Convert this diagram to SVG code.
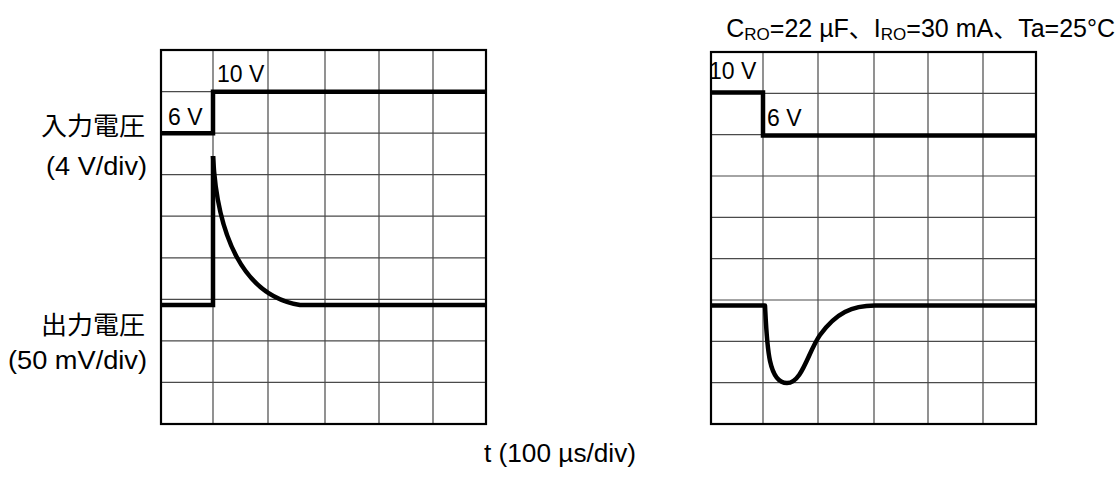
<svg xmlns="http://www.w3.org/2000/svg" width="1120" height="477" viewBox="0 0 1120 477">
<style>
.grid{stroke:#4a4a4a;stroke-width:1.2;fill:none}
.frame{stroke:#000;stroke-width:2.2;fill:none}
.trace{stroke:#000;stroke-width:4.5;fill:none;stroke-linejoin:miter;stroke-linecap:butt}
.curve{stroke:#000;stroke-width:4.5;fill:none;stroke-linejoin:round;stroke-linecap:butt}
text{font-family:"Liberation Sans",Arial,"Noto Sans CJK JP",sans-serif;font-size:23px;fill:#000}
.big{font-size:25px}
.jp{font-family:"Noto Sans CJK JP",sans-serif;font-size:25px}
</style>
<rect width="1120" height="477" fill="#fff"/>
<g id="left-scope">
<path class="grid" d="M213,50V424M268,50V424M325,50V424M379,50V424M433,50V424M161,91.6H486M161,133.1H486M161,174.7H486M161,216.2H486M161,257.8H486M161,299.3H486M161,340.9H486M161,382.4H486"/>
<rect class="frame" x="161" y="50" width="325" height="374"/>
</g>
<g id="right-scope">
<path class="grid" d="M763,52V424M818,52V424M874,52V424M928,52V424M983,52V424M711,93.3H1036M711,134.7H1036M711,176H1036M711,217.3H1036M711,258.7H1036M711,300H1036M711,341.3H1036M711,382.7H1036"/>
<rect class="frame" x="711" y="52" width="325" height="372"/>
</g>
<g id="traces">
<path class="trace" d="M161,133.3H213V91.7H486"/>
<path class="trace" d="M161,305H213V156"/>
<path class="curve" d="M213,156C217,235 243,296 300,305H486"/>
<path class="trace" d="M711,92.5H763V135.5H1036"/>
<path class="curve" d="M711,305.5H765C767,345 768,383 787,383C802,383 808,352 820,335C836,313 852,305.5 875,305.5H1036"/>
</g>
<g id="labels">
<text x="217" y="82">10 V</text>
<text x="168" y="125">6 V</text>
<text x="709" y="79">10 V</text>
<text x="767" y="126">6 V</text>
<text class="jp" x="145" y="135" text-anchor="end" textLength="104" lengthAdjust="spacingAndGlyphs">入力電圧</text>
<text class="big" x="147" y="175" text-anchor="end" textLength="101" lengthAdjust="spacingAndGlyphs">(4 V/div)</text>
<text class="jp" x="145" y="334" text-anchor="end" textLength="104" lengthAdjust="spacingAndGlyphs">出力電圧</text>
<text class="big" x="147" y="369" text-anchor="end" textLength="139" lengthAdjust="spacingAndGlyphs">(50 mV/div)</text>
<text class="big" x="484" y="462" textLength="152" lengthAdjust="spacingAndGlyphs">t (100 µs/div)</text>
<text class="big" x="1115" y="37" text-anchor="end" font-size="25.5">C<tspan font-size="17" dy="3">RO</tspan><tspan dy="-3">=22 µF、I</tspan><tspan font-size="17" dy="3">RO</tspan><tspan dy="-3">=30 mA、Ta=25°C</tspan></text>
</g>
</svg>
